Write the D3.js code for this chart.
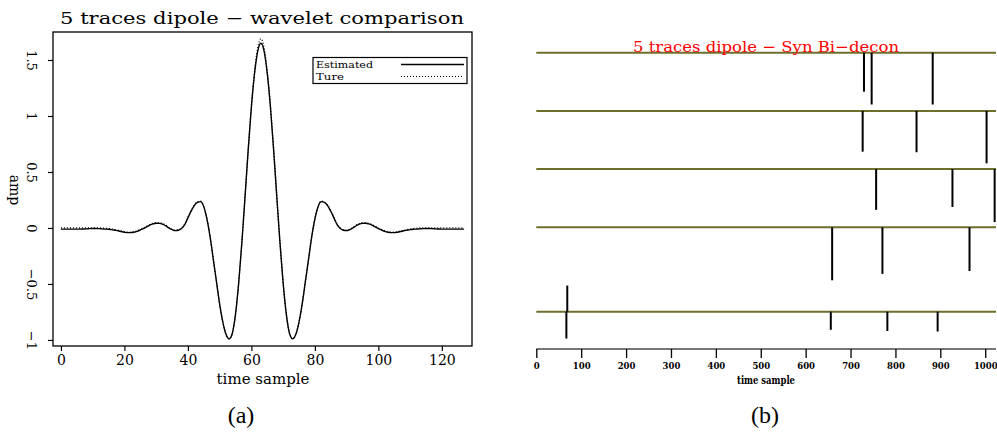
<!DOCTYPE html>
<html><head><meta charset="utf-8">
<script src="https://cdn.jsdelivr.net/npm/d3@7"></script>
<style>body{margin:0;background:#fff}svg{display:block}</style>
</head><body>
<script>
// ---- Panel (a) data: wavelet comparison ----
const samples = d3.range(128);
const estimated = [-0.01,-0.01,-0.01,-0.01,-0.01,-0.01,-0.01,-0.009,-0.008,-0.006,-0.005,-0.005,-0.006,-0.008,-0.01,-0.012,-0.015,-0.02,-0.025,-0.032,-0.038,-0.042,-0.042,-0.038,-0.03,-0.018,-0.005,0.01,0.025,0.036,0.042,0.041,0.034,0.02,0.0,-0.015,-0.024,-0.02,-0.005,0.03,0.09,0.15,0.20,0.228,0.235,0.19,0.08,-0.08,-0.28,-0.48,-0.68,-0.84,-0.95,-0.99,-0.94,-0.77,-0.49,-0.13,0.28,0.70,1.08,1.38,1.58,
1.65,
1.58,1.38,1.08,0.70,0.28,-0.13,-0.49,-0.77,-0.94,-0.99,-0.95,-0.84,-0.68,-0.48,-0.28,-0.08,0.08,0.19,0.235,0.228,0.20,0.15,0.09,0.03,-0.005,-0.02,-0.024,-0.015,0.0,0.02,0.034,0.041,0.042,0.036,0.025,0.01,-0.005,-0.018,-0.03,-0.038,-0.042,-0.042,-0.038,-0.032,-0.025,-0.02,-0.015,-0.012,-0.01,-0.008,-0.006,-0.005,-0.005,-0.006,-0.008,-0.009,-0.01,-0.01,-0.01,-0.01,-0.01,-0.01,-0.01,-0.01];
const trueWavelet = [0,0,0,0,0,0,0,0,0,0,0,0,0,0,-0.003,-0.005,-0.009,-0.014,-0.02,-0.026,-0.032,-0.036,-0.036,-0.032,-0.024,-0.013,0.0,0.015,0.03,0.042,0.048,0.048,0.04,0.026,0.005,-0.01,-0.02,-0.015,0.0,0.035,0.095,0.155,0.205,0.232,0.24,0.19,0.08,-0.08,-0.28,-0.48,-0.68,-0.84,-0.95,-0.99,-0.94,-0.77,-0.49,-0.13,0.28,0.70,1.09,1.40,1.61,
1.69,
1.61,1.40,1.09,0.70,0.28,-0.13,-0.49,-0.77,-0.94,-0.99,-0.95,-0.84,-0.68,-0.48,-0.28,-0.08,0.08,0.19,0.24,0.232,0.205,0.155,0.095,0.035,0.0,-0.015,-0.02,-0.01,0.005,0.026,0.04,0.048,0.048,0.042,0.03,0.015,0.0,-0.013,-0.024,-0.032,-0.036,-0.036,-0.032,-0.026,-0.02,-0.014,-0.009,-0.005,-0.003,0,0,0,0,0,0,0,0,0,0,0,0,0,0,0];
const xTicksA = [0,20,40,60,80,100,120];
const yTicksA = [-1,-0.5,0,0.5,1,1.5];
const yTickLabelsA = ["\u22121","\u22120.5","0","0.5","1","1.5"];
const legendLabels = ["Estimated","Ture"];

// ---- Panel (b) data: 5 traces, spikes ----
const traceOffsets = [0, 1, 2, 3, 4.45];           // trace baseline positions (trace units)
const spikeTrace   = [0,0,0, 1,1,1, 2,2,2, 3,3,3, 4,4,4,4,4];
const spikeSample  = [730,747,883, 727,847,1003, 757,927,1021, 659,771,965, 69,67,656,782,894];
const spikeAmp     = [-0.67,-0.89,-0.89, -0.70,-0.71,-0.90, -0.70,-0.65,-0.91, -0.91,-0.80,-0.75, 0.45,-0.46,-0.31,-0.33,-0.34];
const xTicksB = [0,100,200,300,400,500,600,700,800,900,1000];

const W = 997, H = 436;
const svg = d3.select("body").append("svg").attr("width", W).attr("height", H);

// ================= Panel (a) =================
const serif = "'DejaVu Serif', 'Liberation Serif', serif";
const xA = d3.scaleLinear().domain([-2.5, 129.5]).range([53, 472]);
const yA = d3.scaleLinear().domain([-1.054, 1.75]).range([346, 32]);
const gA = svg.append("g");

gA.append("rect").attr("x", xA.range()[0]).attr("y", yA.range()[1])
  .attr("width", xA.range()[1]-xA.range()[0]).attr("height", yA.range()[0]-yA.range()[1])
  .attr("fill","none").attr("stroke","#000").attr("stroke-width",1.3);

const axB = gA.append("g").attr("transform", `translate(0,${yA.range()[0]})`)
  .call(d3.axisBottom(xA).tickValues(xTicksA).tickSize(5).tickPadding(4).tickFormat(d3.format("d")));
axB.select(".domain").remove();
axB.selectAll("line").attr("stroke","#000").attr("stroke-width",1.2);
axB.selectAll("text").attr("font-family", serif).attr("font-size", 14).attr("fill","#000");

const axL = gA.append("g").attr("transform", `translate(${xA.range()[0]},0)`)
  .call(d3.axisLeft(yA).tickValues(yTicksA).tickSize(5).tickFormat((d,i)=>yTickLabelsA[i]));
axL.select(".domain").remove();
axL.selectAll("line").attr("stroke","#000").attr("stroke-width",1.2);
axL.selectAll("text")
  .attr("font-family", serif).attr("font-size", 13).attr("fill","#000")
  .attr("x", null).attr("dy", null)
  .attr("text-anchor","middle")
  .attr("transform", "translate(-21,0) rotate(90)")
  .attr("dy","0.35em");

gA.append("text").attr("x", 263).attr("y", 384).attr("text-anchor","middle")
  .attr("font-family", serif).attr("font-size", 15).text("time sample");
gA.append("text").attr("transform","translate(10,190) rotate(90)").attr("text-anchor","middle")
  .attr("font-family", serif).attr("font-size", 14).text("amp");
gA.append("text").attr("x", 262).attr("y", 24).attr("text-anchor","middle")
  .attr("font-family", serif).attr("font-size", 17)
  .attr("textLength", 404).attr("lengthAdjust","spacingAndGlyphs")
  .text("5 traces dipole \u2212 wavelet comparison");

const line = d3.line().x((d,i)=>xA(samples[i])).y(d=>yA(d)).curve(d3.curveMonotoneX);
gA.append("path").datum(trueWavelet).attr("d", line).attr("fill","none")
  .attr("stroke","#000").attr("stroke-width",1.2).attr("stroke-dasharray","1,2");
gA.append("path").datum(estimated).attr("d", line).attr("fill","none")
  .attr("stroke","#000").attr("stroke-width",1.4);

// legend
const lg = gA.append("g");
lg.append("rect").attr("x", 313).attr("y", 57.5).attr("width", 154).attr("height", 26)
  .attr("fill","#fff").attr("stroke","#000").attr("stroke-width",1.2);
legendLabels.forEach((t,i)=>{
  lg.append("text").attr("x", 316).attr("y", 68 + i*12).attr("font-family", serif)
    .attr("font-size", 10).attr("textLength", i===0?57:28).attr("lengthAdjust","spacingAndGlyphs").text(t);
  lg.append("line").attr("x1", 401).attr("x2", 464).attr("y1", 64.5 + i*12).attr("y2", 64.5 + i*12)
    .attr("stroke","#000").attr("stroke-width", i===0?1.4:1.1)
    .attr("stroke-dasharray", i===0?null:"1,2");
});

svg.append("text").attr("x", 241).attr("y", 423).attr("text-anchor","middle")
  .attr("font-family","'Liberation Serif', serif").attr("font-size", 24).text("(a)");

// ================= Panel (b) =================
const xB = d3.scaleLinear().domain([0, 1024]).range([536.3, 996]);
const yB = d3.scaleLinear().domain([0, 5.09]).range([52.7, 349]);
const gB = svg.append("g");

// baselines
gB.selectAll("line.base").data(traceOffsets).join("line").attr("class","base")
  .attr("x1", xB(0)).attr("x2", xB(1024))
  .attr("y1", d=>yB(d)).attr("y2", d=>yB(d))
  .attr("stroke","#6f6f2c").attr("stroke-width",2);

// spikes
gB.selectAll("line.spike").data(spikeSample).join("line").attr("class","spike")
  .attr("x1", d=>xB(d)).attr("x2", d=>xB(d))
  .attr("y1", (d,i)=>yB(traceOffsets[spikeTrace[i]]))
  .attr("y2", (d,i)=>yB(traceOffsets[spikeTrace[i]] - spikeAmp[i]))
  .attr("stroke","#000").attr("stroke-width",2);

// axis
const axBB = gB.append("g").attr("transform", `translate(0,${yB.range()[1]})`)
  .call(d3.axisBottom(xB).tickValues(xTicksB).tickSize(9).tickPadding(5).tickFormat(d3.format("d")));
axBB.select(".domain").attr("stroke","#777").attr("stroke-width",2).attr("d", `M${xB(0)},0H${xB(1024)}`);
axBB.selectAll("line").attr("stroke","#000").attr("stroke-width",1.3);
axBB.selectAll("text").attr("font-family", serif).attr("font-size", 8.5).attr("font-weight","bold").attr("fill","#000");

gB.append("text").attr("x", 766).attr("y", 384).attr("text-anchor","middle")
  .attr("font-family", serif).attr("font-size", 11).attr("font-weight","bold")
  .attr("textLength", 58).attr("lengthAdjust","spacingAndGlyphs").text("time sample");

gB.append("text").attr("x", 766).attr("y", 52).attr("text-anchor","middle")
  .attr("font-family", serif).attr("font-size", 15).attr("fill","#ff0000")
  .attr("textLength", 266).attr("lengthAdjust","spacingAndGlyphs")
  .text("5 traces dipole \u2212 Syn Bi\u2212decon");

svg.append("text").attr("x", 765).attr("y", 423).attr("text-anchor","middle")
  .attr("font-family","'Liberation Serif', serif").attr("font-size", 24).text("(b)");
</script>
</body></html>
